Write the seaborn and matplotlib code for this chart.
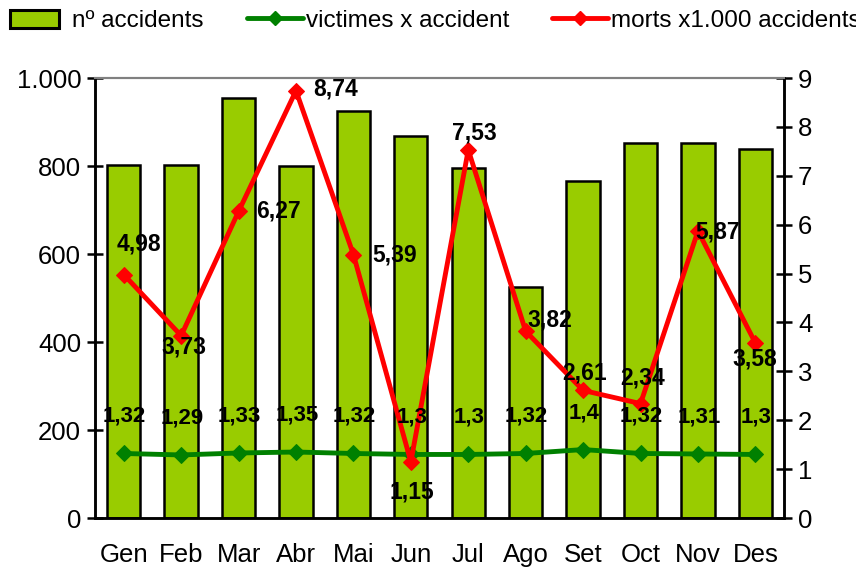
import numpy as np
import matplotlib
matplotlib.use("Agg")
import matplotlib.pyplot as plt
import seaborn as sns
from matplotlib.patches import Patch
from matplotlib.lines import Line2D
from matplotlib.ticker import FuncFormatter

# data
months = ['Gen', 'Feb', 'Mar', 'Abr', 'Mai', 'Jun', 'Jul', 'Ago', 'Set', 'Oct', 'Nov', 'Des']
accidents = [802, 802, 955, 800, 925, 868, 796, 524, 765, 853, 852, 838]
victimes = [1.32, 1.29, 1.33, 1.35, 1.32, 1.30, 1.30, 1.32, 1.40, 1.32, 1.31, 1.30]
victimes_lbl = ['1,32', '1,29', '1,33', '1,35', '1,32', '1,3', '1,3', '1,32', '1,4', '1,32', '1,31', '1,3']
morts = [4.98, 3.73, 6.27, 8.74, 5.39, 1.15, 7.53, 3.82, 2.61, 2.34, 5.87, 3.58]
morts_lbl = ['4,98', '3,73', '6,27', '8,74', '5,39', '1,15', '7,53', '3,82', '2,61', '2,34', '5,87', '3,58']

# label offsets (pixels) for the red series
morts_off = [(15, 31), (3, -11), (40, 0), (40, 2), (41, 0), (1, -30),
             (6, 17), (24, 11), (1, 17), (2, 26), (20, -1), (-1, -16)]

sns.set_style("white")
plt.rcParams['font.family'] = ['Liberation Sans', 'DejaVu Sans']
plt.rcParams['text.color'] = 'black'
plt.rcParams['xtick.color'] = 'black'
plt.rcParams['ytick.color'] = 'black'

fig = plt.figure(figsize=(8.56, 5.67), dpi=100)
ax = fig.add_axes([0.111, 0.0864, 0.805, 0.776])

sns.barplot(x=months, y=accidents, ax=ax, color='#99CC00', saturation=1,
            width=0.58, edgecolor='black', linewidth=1.8, zorder=2)
ax.set_ylim(0, 1000)
ax.set_xlim(-0.5, 11.5)
ax.set_yticks(range(0, 1001, 200))
ax.yaxis.set_major_formatter(FuncFormatter(lambda v, p: f"{int(v):,}".replace(',', '.')))
ax.set_xticks(np.arange(12))
ax.set_xticklabels(months)
ax.set_xticks(np.arange(-0.5, 12, 1), minor=True)
ax.tick_params(axis='x', which='major', length=0, labelsize=18.5, pad=18)
ax.tick_params(axis='x', which='minor', direction='inout', length=10, width=1.8, color='black')
ax.tick_params(axis='y', direction='inout', length=12, width=1.8, labelsize=18.5, left=True, pad=4)

ax2 = ax.twinx()
sns.lineplot(x=np.arange(12), y=victimes, ax=ax2, color='#008000', linewidth=3.5,
             marker='D', markersize=8, markeredgecolor='#008000', sort=False)
sns.lineplot(x=np.arange(12), y=morts, ax=ax2, color='#FF0000', linewidth=3.5,
             marker='D', markersize=8, markeredgecolor='#FF0000', sort=False)
ax2.set_ylim(0, 9)
ax2.set_yticks(range(0, 10))
ax2.tick_params(axis='y', direction='inout', length=12, width=1.8, labelsize=18.5, right=True, pad=4)
ax2.set_xlim(-0.5, 11.5)

for i, (v, t) in enumerate(zip(victimes, victimes_lbl)):
    ax2.annotate(t, (i, v), xytext=(1, 37), textcoords='offset pixels',
                 ha='center', va='center', fontsize=16, fontweight='bold')
for i, (v, t) in enumerate(zip(morts, morts_lbl)):
    dx, dy = morts_off[i]
    ax2.annotate(t, (i, v), xytext=(dx, dy), textcoords='offset pixels',
                 ha='center', va='center', fontsize=16.5, fontweight='bold')

for a in (ax, ax2):
    for s in ('left', 'right', 'bottom'):
        a.spines[s].set_color('black')
        a.spines[s].set_linewidth(1.8)
    a.spines['top'].set_color('#808080')
    a.spines['top'].set_linewidth(1.5)

# legend entries placed one by one, as in the original layout
entries = [
    (Patch(facecolor='#99CC00', edgecolor='black', linewidth=2.2), 'nº accidents', 10, 2.0, 0.56),
    (Line2D([0], [0], color='#008000', linewidth=3.5, marker='D', markersize=7),
     'victimes x accident', 247, 2.3, 0.12),
    (Line2D([0], [0], color='#FF0000', linewidth=3.5, marker='D', markersize=7),
     'morts x1.000 accidents', 552, 2.3, 0.12),
]
for h, lab, x0, hl, tp in entries:
    fig.legend([h], [lab], loc='center left', bbox_to_anchor=(x0 / 856, 1 - 21 / 567),
               frameon=False, fontsize=17.5, handlelength=hl, handletextpad=tp,
               borderpad=0, borderaxespad=0, handleheight=0.75)

fig.savefig('out.png', dpi=100)
